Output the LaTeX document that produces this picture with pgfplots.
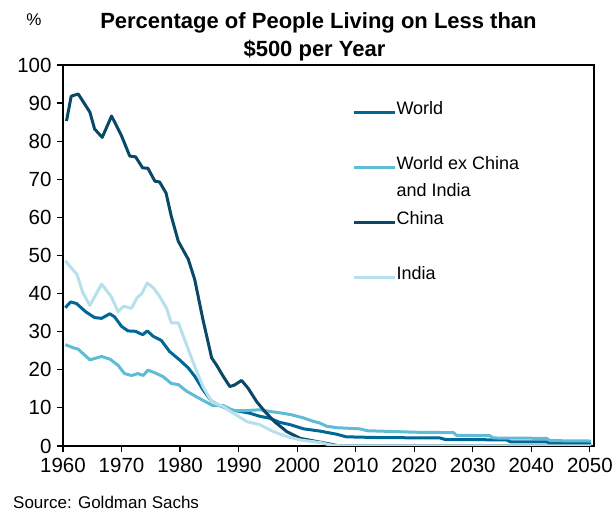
\documentclass[border=0pt]{standalone}
\usepackage{pgfplots}
\pgfplotsset{compat=1.18}
\usepackage{fontspec}
\setmainfont{Liberation Sans}

\definecolor{cWorld}{RGB}{0,104,152}
\definecolor{cWorldEx}{RGB}{95,188,214}
\definecolor{cChina}{RGB}{10,72,104}
\definecolor{cIndia}{RGB}{182,225,235}

\begin{document}
\begin{tikzpicture}
\begin{axis}[
  scale only axis,
  width=531pt, height=381pt,
  xmin=1960, xmax=2050.7, ymin=0, ymax=100,
  xtick={1960,1970,...,2050},
  ytick={0,10,...,100},
  xtick pos=bottom, ytick pos=left,
  tick align=outside,
  major tick length=6pt,
  axis line style={line width=1.5pt},
  tick style={black, line width=1.2pt},
  /pgf/number format/assume math mode=true,
  /pgf/number format/1000 sep={},
  ticklabel style={font=\fontsize{20.5}{24}\selectfont},
  yticklabel style={xshift=-2pt},
  xticklabel style={yshift=-3pt},
  every axis plot/.append style={line width=3pt, line join=round, no markers},
  legend image code/.code={\draw[#1] (0pt,0pt) -- (37pt,0pt); \path (0pt,0pt) -- (41pt,0pt);},
  legend cell align=left,
  legend style={
    at={(rel axis cs:0.545,0.913)}, anchor=north west,
    draw=none, fill=none, inner sep=0pt, row sep=0pt,
    font=\fontsize{18}{22}\selectfont,
    nodes={inner sep=0pt, text height=16pt, text depth=11.5pt},
  },
]

% World total
\addplot[cWorld] coordinates {
(1960.4,36.3) (1961.3,37.8) (1962.3,37.4) (1963.9,35.2) (1965.4,33.7)
(1966.6,33.5) (1968.0,34.7) (1968.8,33.9) (1970.0,31.4) (1971.1,30.2)
(1972.4,30.1) (1973.6,29.2) (1974.4,30.2) (1975.4,28.8) (1976.8,27.7)
(1978.2,24.8) (1979.9,22.6) (1981.4,20.5) (1982.5,18.3) (1983.9,14.8)
(1985.4,11.7) (1986.5,10.8) (1988.5,9.5) (1990.2,9.1) (1991.9,8.6)
(1993.6,7.8) (1995.3,7.3) (1997.0,6.2) (1998.8,5.6) (2001.1,4.5)
(2003.9,3.9) (2006.7,3.1) (2008.4,2.4) (2014.1,2.2) (2024.4,2.1)
(2025.3,1.7) (2035.8,1.6) (2036.4,1.1) (2042.6,1.1) (2043.2,0.7)
(2050.2,0.7)
};
\addlegendentry{World}
\addlegendimage{empty legend}
\addlegendentry{}

% World excluding China and India
\addplot[cWorldEx] coordinates {
(1960.4,26.6) (1961.7,25.8) (1962.6,25.4) (1964.6,22.6) (1966.6,23.5)
(1968.0,22.8) (1969.4,21.2) (1970.5,19.0) (1971.7,18.5) (1972.8,19.0)
(1973.7,18.5) (1974.5,19.9) (1975.7,19.2) (1977.1,18.2) (1978.5,16.4)
(1979.7,16.1) (1981.1,14.4) (1982.8,12.9) (1984.5,11.5) (1985.6,10.6)
(1987.4,10.6) (1989.1,9.3) (1991.4,9.3) (1993.6,9.5) (1995.6,9.0)
(1997.5,8.6) (1999.0,8.2) (2001.0,7.4) (2002.5,6.6) (2003.9,6.0)
(2005.0,5.2) (2006.7,4.8) (2010.7,4.5) (2012.0,4.0) (2014.1,3.9)
(2020.5,3.6) (2026.7,3.5) (2027.2,2.8) (2032.9,2.7) (2033.5,2.1)
(2042.6,2.0) (2043.2,1.4) (2050.2,1.3)
};
\addlegendentry{World ex China}
\addlegendimage{empty legend}
\addlegendentry{and India}

% China
\addplot[cChina] coordinates {
(1960.6,85.3) (1961.4,91.8) (1962.6,92.4) (1964.6,87.6) (1965.4,83.2)
(1966.7,81.0) (1968.3,86.6) (1970.0,81.4) (1971.4,76.1) (1972.4,75.9)
(1973.6,73.0) (1974.5,72.9) (1975.7,69.5) (1976.5,69.3) (1977.6,66.4)
(1978.5,60.3) (1979.7,53.7) (1981.4,49.0) (1982.5,43.7) (1983.9,33.2)
(1985.4,23.1) (1986.2,21.3) (1987.4,18.2) (1988.5,15.6) (1989.3,16.0)
(1990.5,17.2) (1991.6,15.2) (1993.1,11.6) (1994.5,9.0) (1996.2,6.3)
(1998.2,3.8) (2000.5,2.0) (2003.9,1.0) (2007.3,0) (2050.2,0)
};
\addlegendentry{China}
\addlegendimage{empty legend}
\addlegendentry{}

% India
\addplot[cIndia] coordinates {
(1960.4,48.6) (1962.4,45.0) (1963.4,40.2) (1964.6,36.9) (1966.6,42.5)
(1968.2,39.3) (1969.4,35.3) (1970.4,36.7) (1971.7,36.1) (1972.6,38.8)
(1973.5,40.1) (1974.4,42.8) (1975.5,41.4) (1976.5,39.3) (1977.7,36.1)
(1978.5,32.3) (1979.7,32.3) (1980.9,27.4) (1982.5,20.9) (1983.9,15.6)
(1985.4,11.6) (1987.4,10.3) (1989.1,8.6) (1991.4,6.4) (1993.6,5.6)
(1995.9,3.8) (1998.2,2.5) (2000.5,1.6) (2003.9,0.9) (2005.6,0.3)
(2007.5,0) (2050.2,0)
};
\addlegendentry{India}

\end{axis}

% page frame, title, unit and source
\path ([xshift=-63pt,yshift=-66pt]current axis.south west) rectangle ++(616pt,512pt);
\node[anchor=base, font=\fontsize{22}{26}\bfseries] at ([xshift=-10pt,yshift=36pt]current axis.north) {Percentage of People Living on Less than};
\node[anchor=base, font=\fontsize{22}{26}\bfseries] at ([xshift=-14pt,yshift=8pt]current axis.north) {\$500 per Year};
\node[anchor=center, font=\fontsize{17}{20}\selectfont] at ([xshift=-29pt,yshift=45pt]current axis.north west) {\%};
\node[anchor=base west, inner sep=0pt, font=\fontsize{17}{20}\selectfont] at ([xshift=-50pt,yshift=-63pt]current axis.south west) {Source: Goldman Sachs};
\end{tikzpicture}
\end{document}
